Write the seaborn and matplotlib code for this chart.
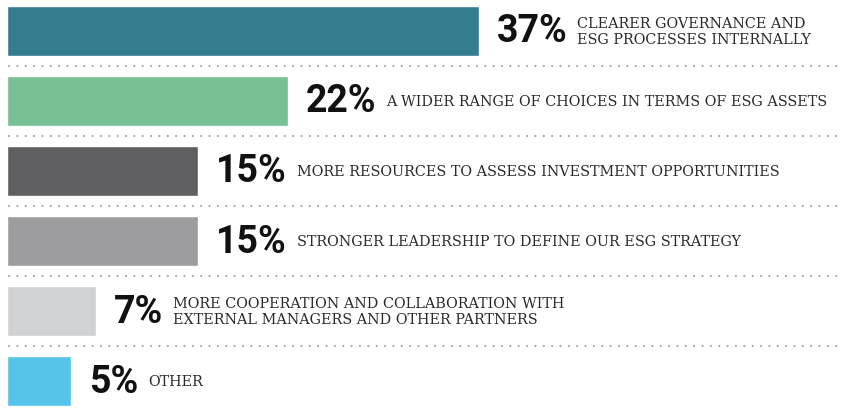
import matplotlib
matplotlib.use("Agg")
import matplotlib.pyplot as plt
import seaborn as sns
import pandas as pd

categories = [
    "CLEARER GOVERNANCE AND\nESG PROCESSES INTERNALLY",
    "A WIDER RANGE OF CHOICES IN TERMS OF ESG ASSETS",
    "MORE RESOURCES TO ASSESS INVESTMENT OPPORTUNITIES",
    "STRONGER LEADERSHIP TO DEFINE OUR ESG STRATEGY",
    "MORE COOPERATION AND COLLABORATION WITH\nEXTERNAL MANAGERS AND OTHER PARTNERS",
    "OTHER",
]
values = [37, 22, 15, 15, 7, 5]
colors = ["#337D8F", "#77BF95", "#5F5F61", "#9D9D9F", "#D1D2D4", "#56C4EA"]

df = pd.DataFrame({"cat": categories, "val": values})

sns.set_theme(style="white")
fig = plt.figure(figsize=(8.48, 4.14), dpi=100)
ax = fig.add_axes([0, 0, 1, 1])

sns.barplot(data=df, y="cat", x="val", hue="cat", palette=colors, orient="h",
            width=0.714, legend=False, ax=ax, saturation=1)

px = 12.75
ax.set_xlim(-7 / px, (848 - 7) / px)
ax.set_ylim(5.457, -0.457)
ax.axis("off")

# dotted dividers
for i in range(len(values) - 1):
    ax.plot([2 / px, 833 / px], [i + 0.5, i + 0.5], color="#A5A5A5", lw=1.6,
            linestyle=(0, (0.01, 6.0 / 1.6)), dash_capstyle="round")

for i, (v, lab) in enumerate(zip(values, categories)):
    t = ax.annotate(f"{v}%", xy=(v, i), xytext=(13, 0), textcoords="offset points",
                    va="center", ha="left", fontsize=27, fontweight="bold",
                    family="Roboto", color="#111111")
    ax.annotate(lab, xy=(1, 0.5), xycoords=t, xytext=(7, 0), textcoords="offset points",
                va="center", ha="left", fontsize=10.4, family="DejaVu Serif",
                color="#2a2a2a", linespacing=1.1)

fig.savefig("out.png", dpi=100)
